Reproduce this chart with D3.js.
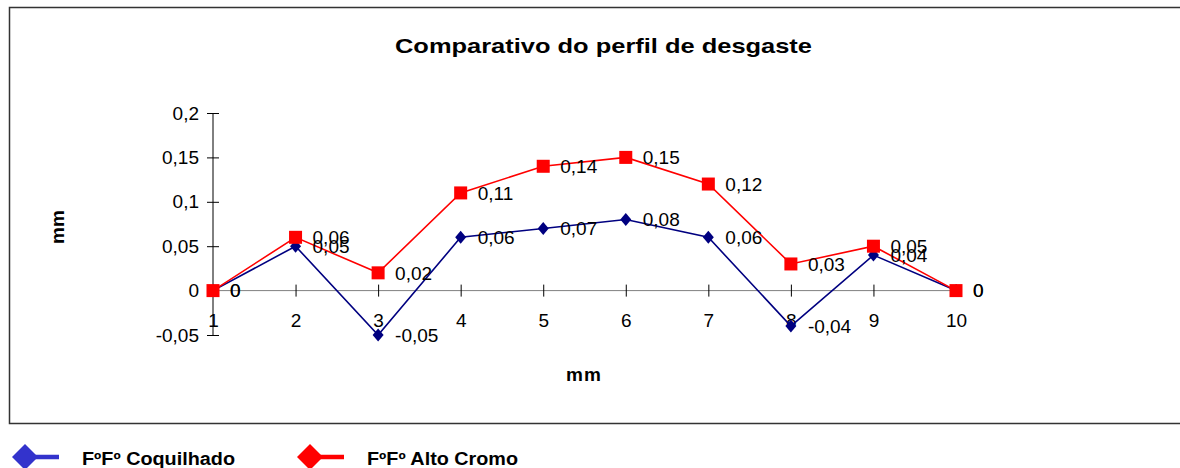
<!DOCTYPE html>
<html><head><meta charset="utf-8">
<script src="https://cdn.jsdelivr.net/npm/d3@7"></script>
<style>body{margin:0;background:#fff;}svg{display:block;font-family:"Liberation Sans",Arial,sans-serif;}</style>
</head><body>
<svg id="c" width="1180" height="468"></svg>
<script>
const categories = ["1","2","3","4","5","6","7","8","9","10"];
const coquilhado = [0, 0.05, -0.05, 0.06, 0.07, 0.08, 0.06, -0.04, 0.04, 0];
const altoCromo = [0, 0.06, 0.02, 0.11, 0.14, 0.15, 0.12, 0.03, 0.05, 0];
const yTicks = [-0.05, 0, 0.05, 0.1, 0.15, 0.2];
const seriesNames = ["FºFº Coquilhado", "FºFº Alto Cromo"];

const svg = d3.select("#c");
const fmt = v => String(+v.toFixed(2)).replace(".", ",");

// frame
svg.append("path").attr("d","M1180,7.5 H9.5 V423.5 H1180").attr("fill","none").attr("stroke","#333").attr("stroke-width",1.5);

const x = d3.scalePoint().domain(categories).range([213, 956]);
const y = d3.scaleLinear().domain([-0.05, 0.2]).range([335, 113]);

svg.append("text").attr("x",395).attr("y",53)
  .attr("textLength",417).attr("lengthAdjust","spacingAndGlyphs")
  .attr("font-size",21).attr("font-weight","bold").text("Comparativo do perfil de desgaste");

// y axis
const ya = svg.append("g").attr("transform","translate(213,0)")
  .call(d3.axisLeft(y).tickValues(yTicks).tickFormat(fmt).tickSize(6).tickPadding(8));
ya.select(".domain").attr("stroke","#000").attr("d","M0,"+y(-0.05)+"V"+y(0.2));
ya.selectAll(".tick line").attr("x1",6).attr("x2",-6).attr("stroke","#000");
ya.selectAll(".tick text").attr("font-size",19).attr("font-family","Liberation Sans, Arial").attr("fill","#000")
  .attr("x",-14);

// x axis at 0
const xa = svg.append("g").attr("transform","translate(0,"+y(0)+")")
  .call(d3.axisBottom(x).tickSize(6).tickPadding(0));
xa.select(".domain").attr("stroke","#808080").attr("d","M213,0H956");
xa.selectAll(".tick line").attr("y1",-6).attr("y2",6).attr("stroke","#000");
xa.selectAll(".tick text").attr("font-size",19).attr("font-family","Liberation Sans, Arial").attr("fill","#000")
  .attr("y",36).attr("dy",0);

svg.append("text").attr("transform","translate(64,227) rotate(-90)").attr("text-anchor","middle")
  .attr("font-size",19).attr("font-weight","bold").text("mm");
svg.append("text").attr("x",584).attr("y",381).attr("text-anchor","middle")
  .attr("font-size",19).attr("font-weight","bold").attr("letter-spacing",1).text("mm");

const line = d3.line().x((d,i)=>x(categories[i])).y(d=>y(d));

svg.append("path").datum(coquilhado).attr("d",line).attr("fill","none").attr("stroke","#000080").attr("stroke-width",1.6);
svg.append("path").datum(altoCromo).attr("d",line).attr("fill","none").attr("stroke","#ff0000").attr("stroke-width",1.6);

svg.selectAll(".dm").data(coquilhado).join("path").attr("class","dm")
  .attr("transform",(d,i)=>"translate("+x(categories[i])+","+y(d)+")")
  .attr("d","M0,-6.5L5.5,0L0,6.5L-5.5,0Z").attr("fill","#000080");
svg.selectAll(".sq").data(altoCromo).join("rect").attr("class","sq")
  .attr("x",(d,i)=>x(categories[i])-6.5).attr("y",d=>y(d)-6.5).attr("width",13).attr("height",13).attr("fill","#ff0000");

// labels
[coquilhado, altoCromo].forEach(arr=>{
  svg.append("g").selectAll("text").data(arr).join("text")
    .attr("x",(d,i)=>x(categories[i])+17).attr("y",d=>y(d)).attr("dy","0.36em")
    .attr("font-size",19).attr("fill","#000").text(d=>fmt(d));
});

// legend
const legendColors = ["#3333cc","#ff0000"];
const legendX = [25, 310];
const legendTextLen = [153, 151];
seriesNames.forEach((n,i)=>{
  const g = svg.append("g").attr("transform","translate("+legendX[i]+",457)");
  g.append("line").attr("x1",0).attr("x2",34).attr("stroke",legendColors[i]).attr("stroke-width",4.5);
  g.append("path").attr("d","M0,-13L13,0L0,13L-13,0Z").attr("fill",legendColors[i]);
  g.append("text").attr("x",57).attr("y",8).attr("textLength",legendTextLen[i]).attr("lengthAdjust","spacingAndGlyphs")
    .attr("font-size",18).attr("font-weight","bold").text(n);
});
</script>
</body></html>
